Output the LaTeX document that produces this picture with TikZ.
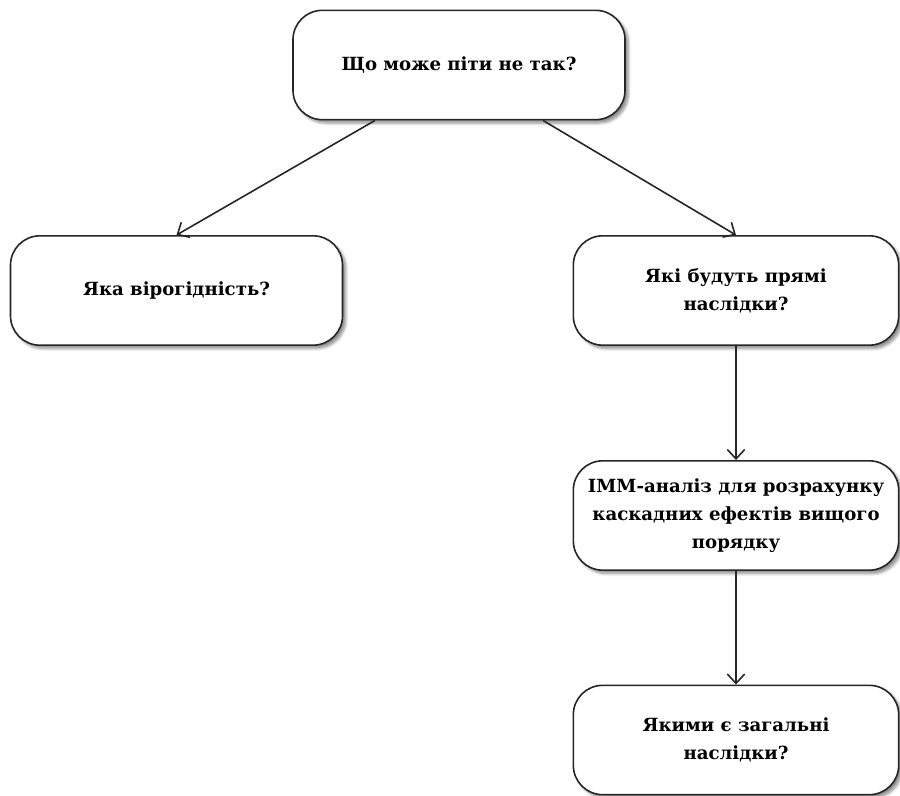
\documentclass[tikz,border=0pt]{standalone}
\usepackage{fontspec}
\setmainfont{DejaVu Serif}
\usetikzlibrary{calc,shadows.blur,arrows.meta}
\begin{document}
\begin{tikzpicture}[x=0.75pt,y=-0.75pt,
  qbox/.style={draw=black!85,line width=1.2pt,rounded corners=22pt,fill=white,
    blur shadow={shadow xshift=2.5pt,shadow yshift=-2.5pt,shadow blur steps=6,shadow opacity=45},
    minimum height=82pt,align=center,font=\bfseries\fontsize{13.6}{20.8}\selectfont,inner sep=0pt},
  arr/.style={draw=black!85,line width=1.2pt,-{Straight Barb[length=7pt,width=13pt]}}]
\useasboundingbox (0,0) rectangle (900,796);
\node[qbox,minimum width=249pt] (top) at (459,65) {Що може піти не так?};
\node[qbox,minimum width=249pt] (left) at (176.5,290.5) {Яка вірогідність?};
\node[qbox,minimum width=244pt] (direct) at (736,290.5) {Які будуть прямі\\наслідки?};
\node[qbox,minimum width=244pt] (imm) at (736,515.5) {IMM-аналіз для розрахунку\\каскадних ефектів вищого\\порядку};
\node[qbox,minimum width=244pt] (total) at (736,740) {Якими є загальні\\наслідки?};
\draw[arr] ($(top.south)+(-84,0)$) -- (left.north);
\draw[arr] ($(top.south)+(84,0)$) -- (direct.north);
\draw[arr] (direct) -- (imm);
\draw[arr] (imm) -- (total);
\end{tikzpicture}
\end{document}
